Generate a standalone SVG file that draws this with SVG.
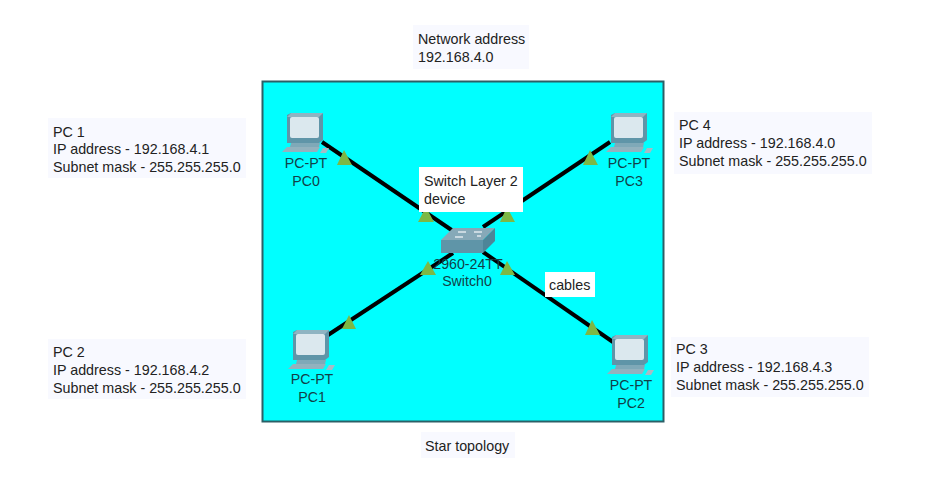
<svg xmlns="http://www.w3.org/2000/svg" width="940" height="498" viewBox="0 0 940 498">
<style>
.t{font-family:"Liberation Sans",Arial,sans-serif;font-size:14.3px;fill:#222}
.d{font-family:"Liberation Sans",Arial,sans-serif;font-size:14.2px;fill:#123f48;text-anchor:middle}
.note{fill:#f8f9ff}
.w{fill:#fff}
.c{stroke:#000;stroke-width:4;fill:none}
.tri{fill:#7db845}
</style>
<defs>
<g id="pc">
<path d="M5 2L9 0H41V27L37 30H5Z" fill="#5f95a8"/>
<path d="M9 0H41L37 4H5Z" fill="#8fb4c2"/>
<rect x="8" y="4" width="29" height="21" rx="2" fill="#dbe8ee"/>
<path d="M9 30H38L37 34H8Z" fill="#7fa9b8"/>
<path d="M5 34H38L35 39H0Z" fill="#93b2be"/>
<path d="M41 35H47L44 40H38Z" fill="#a5bcc6"/>
</g>
</defs>
<rect width="940" height="498" fill="#fff"/>
<rect x="262.500" y="81.500" width="401" height="340" fill="#00ffff" stroke="#2c5f66" stroke-width="2"/>
<g id="connectors">
<path class="c" d="M322 142L453 231"/>
<path class="c" d="M610 142L483 227"/>
<path class="c" d="M328 335L453 253"/>
<path class="c" d="M613 342L483 252"/>
<path class="tri" d="M344 150L352 165H337Z"/>
<path class="tri" d="M590 150L598 165H583Z"/>
<path class="tri" d="M507 207L515 222H500Z"/>
<path class="tri" d="M426 207L434 222H418Z"/>
<path class="tri" d="M428 261L436 275H420Z"/>
<path class="tri" d="M507 261L515 275H500Z"/>
<path class="tri" d="M349 315L356 329H342Z"/>
<path class="tri" d="M592 320L600 335H585Z"/>
</g>
<g id="switch0">
<path d="M441 240L453 228H495L483 240Z" fill="#86a9b8"/>
<path d="M441 240H483V253H441Z" fill="#5f95a8"/>
<path d="M483 240L495 228V241L483 253Z" fill="#4d8598"/>
<path d="M458 232H466M474 232H482M455 237H463M477 236H481" stroke="#dfe9ee" stroke-width="1.500" fill="none"/>
<text class="d" x="468" y="269">2960-24TT</text>
<text class="d" x="467" y="286">Switch0</text>
</g>
<g id="pc0"><use href="#pc" x="282" y="113"/><text class="d" x="306" y="168">PC-PT</text><text class="d" x="306" y="186">PC0</text></g>
<g id="pc3"><use href="#pc" x="606" y="113"/><text class="d" x="629" y="168">PC-PT</text><text class="d" x="629" y="186">PC3</text></g>
<g id="pc1"><use href="#pc" x="288" y="330"/><text class="d" x="312" y="384">PC-PT</text><text class="d" x="312" y="402">PC1</text></g>
<g id="pc2"><use href="#pc" x="607" y="335"/><text class="d" x="631" y="390">PC-PT</text><text class="d" x="631" y="408">PC2</text></g>
<g id="note-switch"><rect class="w" x="419" y="167" width="104" height="45"/><text class="t" x="424" y="186">Switch Layer 2</text><text class="t" x="424" y="204">device</text></g>
<g id="note-cables"><rect class="w" x="545" y="272" width="50" height="25"/><text class="t" x="549" y="290">cables</text></g>
<g id="note-network"><rect class="note" x="413" y="25" width="116" height="44"/><text class="t" x="418" y="44">Network address</text><text class="t" x="418" y="62">192.168.4.0</text></g>
<g id="note-pc1"><rect class="note" x="48" y="118" width="198" height="60"/><text class="t" x="53" y="137">PC 1</text><text class="t" x="53" y="154">IP address - 192.168.4.1</text><text class="t" x="53" y="172">Subnet mask - 255.255.255.0</text></g>
<g id="note-pc2"><rect class="note" x="48" y="339" width="198" height="60"/><text class="t" x="53" y="357">PC 2</text><text class="t" x="53" y="375">IP address - 192.168.4.2</text><text class="t" x="53" y="393">Subnet mask - 255.255.255.0</text></g>
<g id="note-pc4"><rect class="note" x="674" y="112" width="198" height="62"/><text class="t" x="679" y="130">PC 4</text><text class="t" x="679" y="148">IP address - 192.168.4.0</text><text class="t" x="679" y="166">Subnet mask - 255.255.255.0</text></g>
<g id="note-pc3"><rect class="note" x="671" y="337" width="198" height="60"/><text class="t" x="676" y="354">PC 3</text><text class="t" x="676" y="372">IP address - 192.168.4.3</text><text class="t" x="676" y="390">Subnet mask - 255.255.255.0</text></g>
<g id="caption"><rect class="note" x="421" y="432" width="94" height="26"/><text class="t" x="425" y="451">Star topology</text></g>
</svg>
